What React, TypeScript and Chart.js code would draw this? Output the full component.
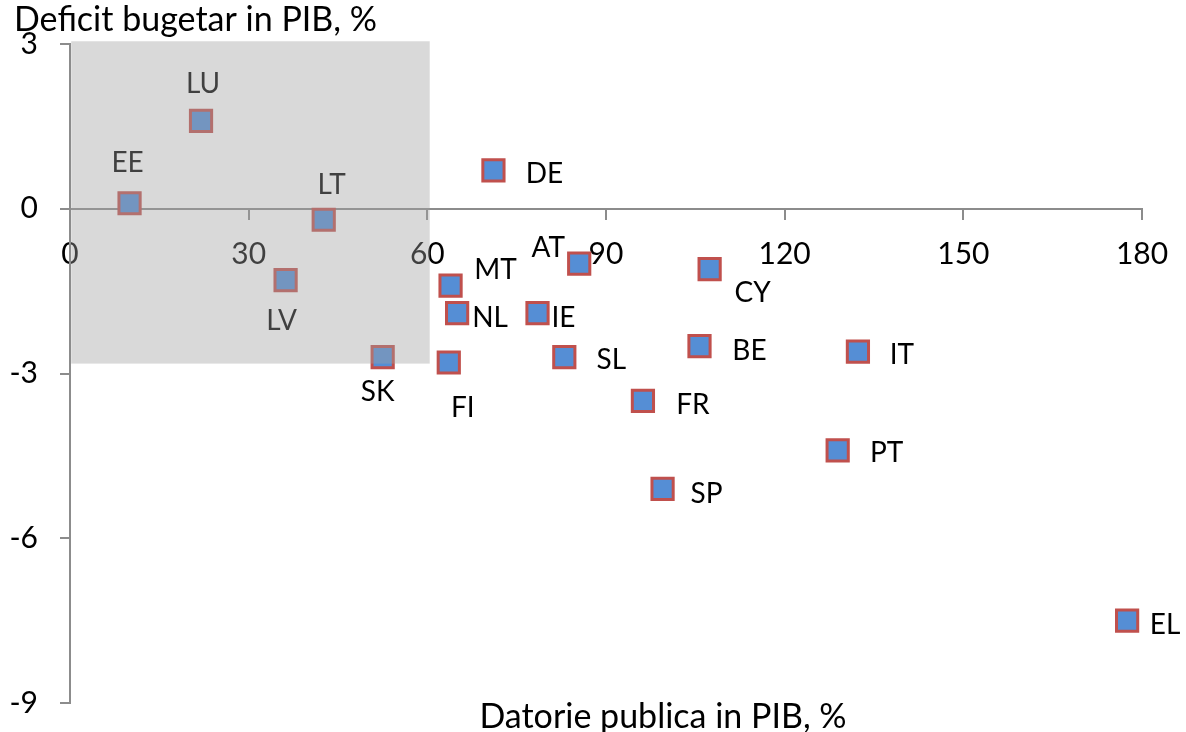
import React, { useEffect, useRef } from "react";
import { Chart, registerables } from "chart.js";

Chart.register(...registerables);

// ---- data ----
const countries = ["EE", "LU", "LT", "LV", "SK", "DE", "MT", "NL", "IE", "AT", "CY", "SL", "FI", "BE", "FR", "IT", "PT", "SP", "EL"];
const publicDebt = [10, 22, 42.6, 36.2, 52.5, 71.1, 63.9, 65, 78.5, 85.5, 107.4, 83, 63.6, 105.7, 96.2, 132.3, 128.9, 99.5, 177.5];
const budgetBalance = [0.1, 1.6, -0.2, -1.3, -2.7, 0.7, -1.4, -1.9, -1.9, -1.0, -1.1, -2.7, -2.8, -2.5, -3.5, -2.6, -4.4, -5.1, -7.5];
const xTickValues = [0, 30, 60, 90, 120, 150, 180];
const yTickValues = [3, 0, -3, -6, -9];
const xTitle = "Datorie publica in PIB, %";
const yTitle = "Deficit bugetar in PIB, %";
// shaded zone (data units): debt 0..60, balance -2.8..3
const zoneDebt = [0.2, 60.4];
const zoneBalance = [-2.82, 3.05];

// label placement offsets (pixels, relative to marker centre)
const labelOffsets: Record<string, [number, number]> = {
  EE: [-2, -42], LU: [2, -39], LT: [8, -37], LV: [-4, 39], SK: [-5, 33],
  DE: [51, 2], MT: [45, -18], NL: [33, 3], IE: [26, 3], AT: [-31, -18],
  CY: [43, 22], SL: [47, 1], FI: [14, 43], BE: [50, 3], FR: [50, 2],
  IT: [44, 1], PT: [49, 1], SP: [44, 3], EL: [38, 2],
};

const FONT = "Lato, 'Open Sans', sans-serif";
const AXIS_GREY = "#8c8c8c";

const overlayPlugin = {
  id: "overlayAndLabels",
  afterDatasetsDraw(chart: any) {
    const ctx = chart.ctx;
    const meta = chart.getDatasetMeta(0);
    ctx.save();
    ctx.font = `28px ${FONT}`;
    ctx.fillStyle = "#000";
    ctx.textAlign = "center";
    ctx.textBaseline = "middle";
    meta.data.forEach((pt: any, i: number) => {
      const name = countries[i];
      const off = labelOffsets[name] || [40, 0];
      ctx.fillText(name, pt.x + off[0], pt.y + off[1] + 2);
    });
    const xs = chart.scales.x;
    const ys = chart.scales.y;
    const x0 = xs.getPixelForValue(zoneDebt[0]);
    const x1 = xs.getPixelForValue(zoneDebt[1]);
    const y0 = ys.getPixelForValue(zoneBalance[1]);
    const y1 = ys.getPixelForValue(zoneBalance[0]);
    ctx.fillStyle = "rgba(160,160,160,0.4)";
    ctx.fillRect(x0, y0, x1 - x0, y1 - y0);
    ctx.restore();
  },
  afterDraw(chart: any) {
    const ctx = chart.ctx;
    ctx.save();
    ctx.font = `34px ${FONT}`;
    ctx.fillStyle = "#000";
    ctx.textBaseline = "middle";
    ctx.textAlign = "left";
    ctx.fillText(yTitle, 14, 20);
    ctx.textAlign = "center";
    ctx.fillText(xTitle, 663, 717);
    ctx.restore();
  },
};

export default function App() {
  const ref = useRef<HTMLCanvasElement | null>(null);
  useEffect(() => {
    if (!ref.current) return;
    const chart = new Chart(ref.current, {
      type: "scatter",
      data: {
        datasets: [
          {
            label: "Tari",
            data: countries.map((c, i) => ({ x: publicDebt[i], y: budgetBalance[i] })),
            pointStyle: "rect",
            pointRadius: 15,
            pointHoverRadius: 15,
            backgroundColor: "#558ED5",
            borderColor: "#C0504D",
            borderWidth: 3,
          },
        ],
      },
      options: {
        responsive: false,
        animation: false,
        events: [],
        layout: { padding: { top: 44, right: 44, bottom: 29, left: 0 } },
        plugins: { legend: { display: false }, tooltip: { enabled: false }, title: { display: false } },
        scales: {
          x: {
            type: "linear",
            position: { y: 0 } as any,
            min: 0,
            max: 180,
            afterBuildTicks: (s: any) => { s.ticks = xTickValues.map((v) => ({ value: v })); },
            afterFit: (s: any) => { s.height = 0; s.paddingTop = 0; s.paddingBottom = 0; s.paddingLeft = 0; s.paddingRight = 0; },
            ticks: { color: "#000", font: { family: FONT, size: 30 }, padding: 18, maxRotation: 0 },
            grid: { drawOnChartArea: false, drawTicks: true, tickLength: 10, color: AXIS_GREY, lineWidth: 2 },
            border: { color: AXIS_GREY, width: 2 },
          },
          y: {
            type: "linear",
            position: "left",
            min: -9,
            max: 3,
            afterBuildTicks: (s: any) => { s.ticks = yTickValues.map((v) => ({ value: v })); },
            afterFit: (s: any) => { s.width = 70; s.paddingTop = 0; s.paddingBottom = 0; },
            ticks: { color: "#000", font: { family: FONT, size: 30 }, padding: 22 },
            grid: { drawOnChartArea: false, drawTicks: true, tickLength: 10, color: AXIS_GREY, lineWidth: 2 },
            border: { color: AXIS_GREY, width: 2 },
          },
        },
      },
      plugins: [overlayPlugin],
    });
    return () => chart.destroy();
  }, []);
  return (
    <div style={{ position: "absolute", left: 0, top: 0, width: 1186, height: 732, background: "#fff" }}>
      <canvas ref={ref} width={1186} height={732} style={{ display: "block" }} />
    </div>
  );
}
